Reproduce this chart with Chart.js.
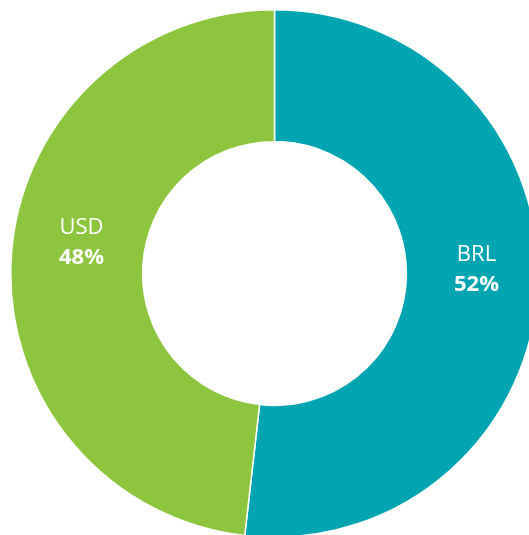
<!DOCTYPE html>
<html>
<head>
<meta charset="utf-8">
<script src="https://cdn.jsdelivr.net/npm/chart.js@4"></script>
<style>
  html, body { margin: 0; padding: 0; background: #fff; overflow: hidden; width: 529px; height: 535px; }
  #wrap { position: absolute; left: 10px; top: 9px; width: 529px; height: 529px; }
</style>
</head>
<body>
<div id="wrap"><canvas id="chart"></canvas></div>
<script>
// Chart data
const currencies = ['BRL', 'USD'];
const shares = [51.8, 48.2];
const sliceColors = ['#00A5B1', '#8DC53F'];

// Draws currency name and rounded share inside each slice
const sliceLabels = {
  id: 'sliceLabels',
  afterDatasetsDraw(chart, args, opts) {
    const ctx = chart.ctx;
    const meta = chart.getDatasetMeta(0);
    ctx.save();
    ctx.fillStyle = '#fff';
    ctx.textAlign = 'center';
    ctx.textBaseline = 'middle';
    meta.data.forEach((arc, i) => {
      const pos = arc.tooltipPosition();
      const x = pos.x + opts.dx;
      const y = pos.y + (opts.dy[i] || 0);
      ctx.font = '400 22px "Open Sans"';
      ctx.fillText(currencies[i], x, y - 30);
      ctx.font = '700 22px "Open Sans"';
      ctx.fillText(Math.round(shares[i]) + '%', x, y);
    });
    ctx.restore();
  }
};

new Chart(document.getElementById('chart'), {
  type: 'doughnut',
  data: {
    labels: currencies,
    datasets: [{
      data: shares,
      backgroundColor: sliceColors,
      borderColor: '#fff',
      borderWidth: 1.5
    }]
  },
  options: {
    responsive: true,
    maintainAspectRatio: false,
    animation: false,
    cutout: '50%',
    layout: { padding: 0 },
    plugins: {
      legend: { display: false },
      tooltip: { enabled: false },
      sliceLabels: { dx: 4.5, dy: [0, -5] }
    }
  },
  plugins: [sliceLabels]
});
</script>
</body>
</html>
